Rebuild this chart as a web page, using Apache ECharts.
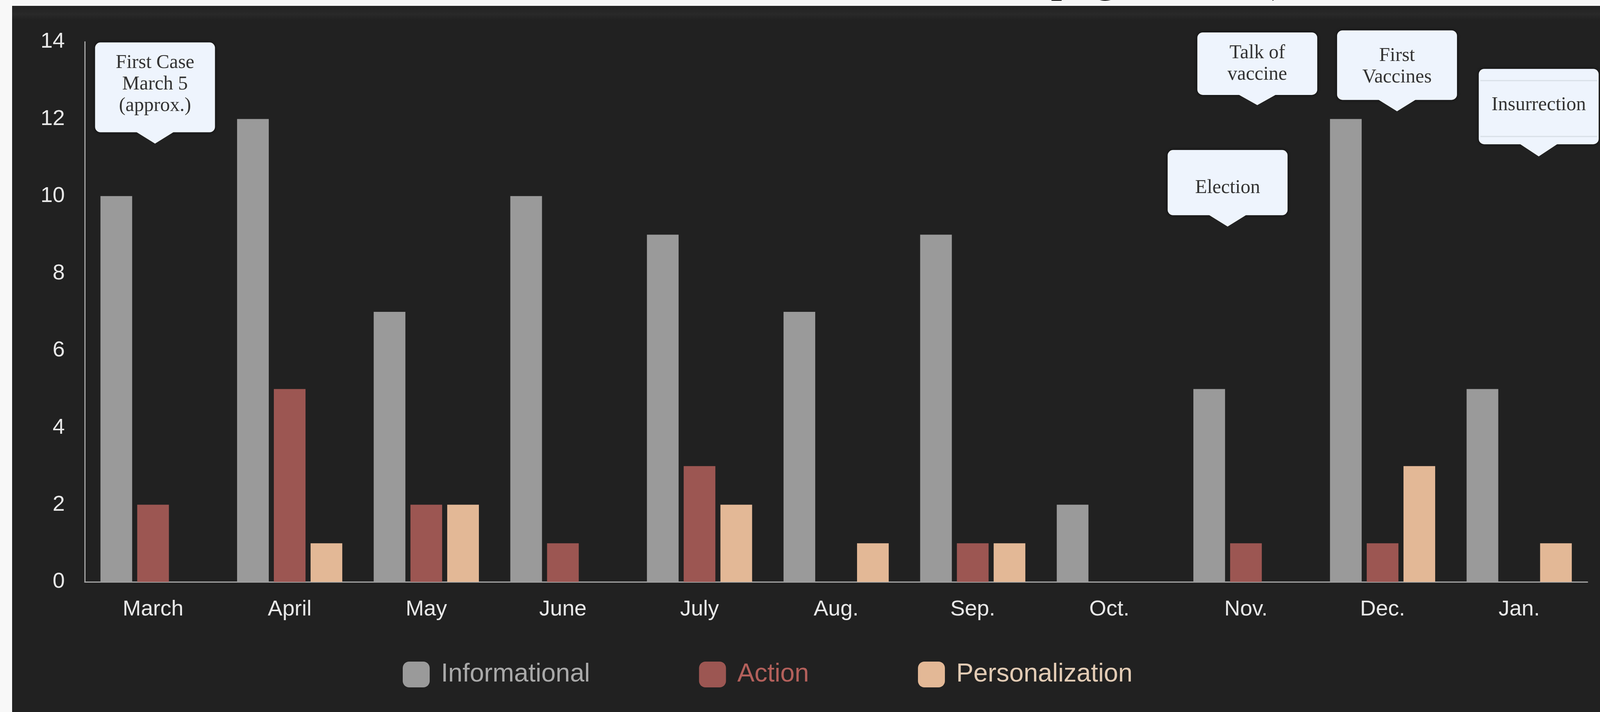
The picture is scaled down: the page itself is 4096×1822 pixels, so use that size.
<!DOCTYPE html>
<html>
<head>
<meta charset="utf-8">
<script src="https://cdn.jsdelivr.net/npm/echarts@6/dist/echarts.min.js"></script>
<style>
html,body{margin:0;padding:0;background:#212121;}
#c{width:4096px;height:1822px;}
</style>
</head>
<body>
<div id="c"></div>
<script>
// ---- data ----
const months = ['March','April','May','June','July','Aug.','Sep.','Oct.','Nov.','Dec.','Jan.'];
const informational = [10, 12, 7, 10, 9, 7, 9, 2, 5, 12, 5];
const action        = [2, 5, 2, 1, 3, 0, 1, 0, 1, 1, 0];
const personalization = [0, 1, 2, 0, 2, 1, 1, 0, 0, 3, 1];
const yTicks = [0, 2, 4, 6, 8, 10, 12, 14];
const seriesNames = ['Informational', 'Action', 'Personalization'];

// callout annotations: label, month it points at, value where the pointer tip sits
const annotationLabels = ['First Case\nMarch 5\n(approx.)', 'Talk of\nvaccine', 'Election', 'First\nVaccines', 'Insurrection'];
const annotationMonths = ['March', 'Nov.', 'Nov.', 'Dec.', 'Jan.'];
const annotationValues = [11.36, 12.36, 9.21, 12.2, 11.03];
const titleFragment = 'pages, 2020)';

// ---- styles ----
const annDx   = [5, 29, -47, 37, 50];
const annBoxH = [230, 160, 167, 178, 193];
const annPtrH = [29, 26, 29, 29, 31];
const annTextDy = [-8, 0, 14, 4, -4];
const colors = ['#9a9a9a', '#9c5652', '#e3b896'];
const legendTextColors = ['#a9a9a9', '#b3605b', '#e2cbb4'];
const SANS = '"Liberation Sans", Arial, sans-serif';
const SERIF = '"Liberation Serif", "Times New Roman", serif';

const chart = echarts.init(document.getElementById('c'), null, {renderer: 'canvas'});
const seriesData = [informational, action, personalization];

const option = {
  backgroundColor: '#212121',
  animation: false,
  grid: {left: 217, right: 32, top: 107, bottom: 333, containLabel: false},
  legend: {
    left: 1026, top: 1688,
    itemWidth: 69, itemHeight: 66, itemGap: 279,
    icon: 'roundRect',
    textStyle: {fontFamily: SANS, fontSize: 66, padding: [0, 0, 0, 24]},
    data: seriesNames.map((n, i) => ({name: n, textStyle: {color: legendTextColors[i]}}))
  },
  xAxis: {
    type: 'category',
    data: months,
    axisLine: {show: true, lineStyle: {color: '#a6a6a6', width: 3}},
    axisTick: {show: false},
    axisLabel: {color: '#e8e8e8', fontFamily: SANS, fontSize: 56, margin: 43}
  },
  yAxis: {
    type: 'value',
    min: yTicks[0], max: yTicks[yTicks.length - 1], interval: 2,
    axisLine: {show: true, lineStyle: {color: '#a6a6a6', width: 3}},
    axisTick: {show: false},
    splitLine: {show: false},
    axisLabel: {color: '#e8e8e8', fontFamily: SANS, fontSize: 56, margin: 51}
  },
  series: seriesNames.map((n, i) => ({
    name: n,
    type: 'bar',
    data: seriesData[i],
    barCategoryGap: '23%',
    barGap: '16%',
    itemStyle: {color: colors[i]}
  }))
};
chart.setOption(option);

// ---- decorations & callouts ----
const elements = [];
// white page margins (top strip and left strip)
elements.push({type: 'rect', shape: {x: 0, y: 0, width: 4096, height: 15}, style: {fill: '#f6f6f6'}, z: 100});
elements.push({type: 'rect', shape: {x: 0, y: 0, width: 31, height: 1822}, style: {fill: '#f8f8f8'}, z: 100});
elements.push({type: 'rect', shape: {x: 31, y: 15, width: 4065, height: 36},
  style: {fill: new echarts.graphic.LinearGradient(0, 0, 0, 1, [
    {offset: 0, color: '#212121'}, {offset: 0.6, color: '#292929'}, {offset: 1, color: '#212121'}])}, z: 1});
// cut-off title text at very top: only the descenders show inside the white strip
elements.push({type: 'group', z: 101, clipPath: {type: 'rect', shape: {x: 0, y: 0, width: 4096, height: 15}},
  children: [{type: 'text', x: 2690, y: -113, z: 101,
    style: {text: titleFragment, fill: '#000', font: '118px ' + SERIF, align: 'left', verticalAlign: 'top'}}]});

const BOXW = 307, PTRW = 100, R = 14;
annotationLabels.forEach((label, i) => {
  const ci = months.indexOf(annotationMonths[i]);
  const p = chart.convertToPixel({xAxisIndex: 0, yAxisIndex: 0}, [ci, annotationValues[i]]);
  const tx = p[0] + annDx[i], ty = p[1];
  const bottom = ty - annPtrH[i];
  const top = bottom - annBoxH[i];
  const left = tx - BOXW / 2;
  const shadow = {shadowBlur: 10, shadowColor: 'rgba(0,0,0,0.7)'};
  elements.push({type: 'rect', z: 50,
    shape: {x: left, y: top, width: BOXW, height: annBoxH[i], r: R},
    style: Object.assign({fill: '#eef4fd'}, shadow)});
  elements.push({type: 'polygon', z: 51,
    shape: {points: [[tx - PTRW / 2, bottom - 2], [tx + PTRW / 2, bottom - 2], [tx, ty]]},
    style: {fill: '#eef4fd'}});
  if (label === 'Insurrection') {
    elements.push({type: 'line', z: 52, shape: {x1: left + 4, y1: top + 30, x2: left + BOXW - 4, y2: top + 30},
      style: {stroke: '#d9e0e8', lineWidth: 3}});
    elements.push({type: 'line', z: 52, shape: {x1: left + 4, y1: bottom - 20, x2: left + BOXW - 4, y2: bottom - 20},
      style: {stroke: '#d9e0e8', lineWidth: 3}});
  }
  elements.push({type: 'text', z: 53, x: tx, y: top + annBoxH[i] / 2 + annTextDy[i],
    style: {text: label, fill: '#333333', font: '50px ' + SERIF, align: 'center',
      verticalAlign: 'middle', lineHeight: 55}});
});
chart.setOption({graphic: {elements: elements}});
</script>
</body>
</html>
